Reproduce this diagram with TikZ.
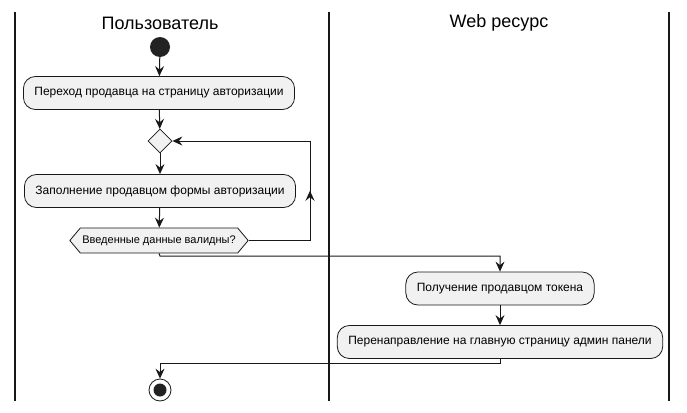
\documentclass[tikz,border=0pt]{standalone}
\usepackage{fontspec}
\setmainfont{Liberation Sans}
\usetikzlibrary{arrows.meta,shapes.geometric,shapes.symbols,decorations.markings}
\definecolor{boxfill}{HTML}{F1F1F1}
\definecolor{ink}{HTML}{181818}
\definecolor{dot}{HTML}{222222}
\newcommand{\FlowTip}{Stealth[length=10,width=9,inset=3.5]}
\tikzset{flow/.style={draw=ink,line width=1,-{\FlowTip}}}
\tikzset{link/.style={draw=ink,line width=1}}
\tikzset{->-/.style={decoration={markings,mark=at position .5 with {\arrow{\FlowTip}}}, postaction={decorate}}}
\tikzset{action/.style={draw=ink,fill=boxfill,line width=.8,rounded corners=12,minimum height=33,inner xsep=11,font=\fontsize{12}{14}\selectfont}}
\tikzset{lanetitle/.style={font=\fontsize{18}{20}\selectfont}}

\begin{document}
\begin{tikzpicture}[x=1pt,y=-1pt]
\useasboundingbox(0,0)rectangle(687,412);
% swimlanes
\draw[ink,line width=1.5](15,12)--(15,401)(329,12)--(329,401)(669,12)--(669,401);
\node[lanetitle](userT)at(160,23){Пользователь};
\node[lanetitle](webT)at(499,23){Web ресурс};
% nodes
\node[circle,fill=dot,minimum size=20,inner sep=0](start)at(160,47){};
\node[action](gotoAuth)at(159,93){Переход продавца на страницу авторизации};
\node[diamond,draw=ink,fill=boxfill,line width=.8,minimum size=24,inner sep=0](merge)at(160,141){};
\node[action](fillForm)at(160,191){Заполнение продавцом формы авторизации};
\node[signal,signal to=west and east,signal pointer angle=100,draw=ink,fill=boxfill,line width=.8,minimum height=25,inner xsep=2,font=\fontsize{11}{13}\selectfont](check)at(159,240.5){Введенные данные валидны?};
\node[action](token)at(500,288.5){Получение продавцом токена};
\node[action](redirect)at(500,342){Перенаправление на главную страницу админ панели};
\node[circle,draw=ink,line width=.8,minimum size=22,inner sep=0](stop)at(160,390){};
\fill[dot](stop.center)circle(6.5);
% connectors
\coordinate(loopB)at(310,240.5);\coordinate(loopT)at(310,141);
\coordinate(joinA)at(160,256);\coordinate(joinB)at(500,363);
\draw[flow](start)--(gotoAuth);
\draw[flow](gotoAuth)--(merge);
\draw[flow](merge)--(fillForm);
\draw[flow](fillForm)--(check);
\draw[link](check.east)--(loopB);\draw[link,->-](loopB)--(loopT);\draw[flow](loopT)--(merge.east);
\draw[flow](check.south)--(joinA)-|(token.north);
\draw[flow](token)--(redirect);
\draw[flow](redirect.south)--(joinB)-|(stop.north);
\end{tikzpicture}
\end{document}
